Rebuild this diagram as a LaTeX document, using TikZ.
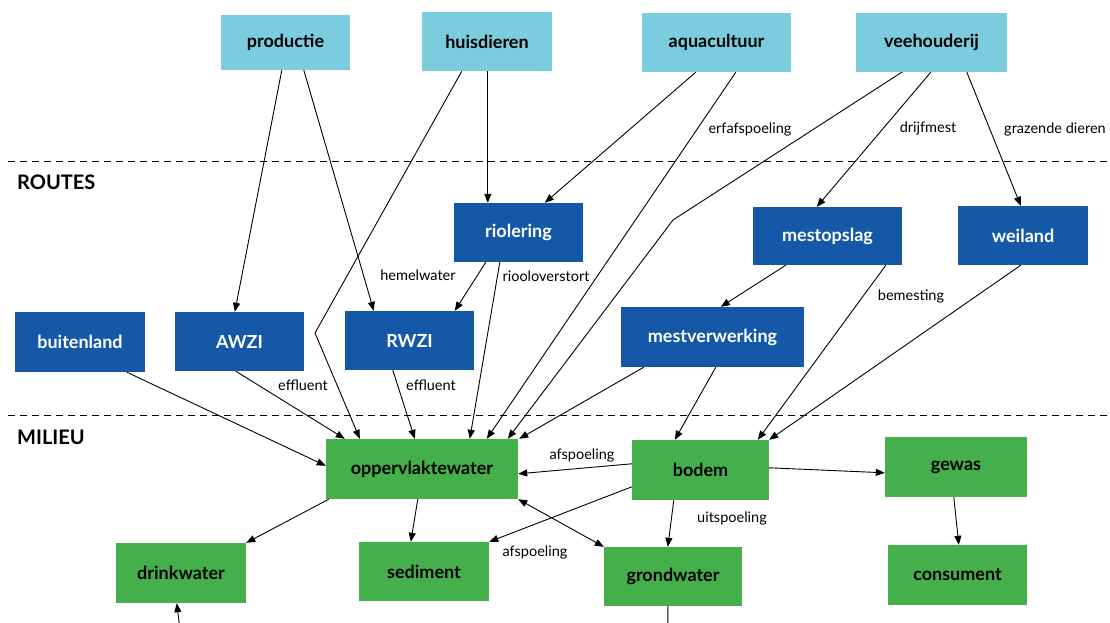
\documentclass[tikz,border=0pt]{standalone}
\usepackage{fontspec}
\setmainfont{Lato}
\usetikzlibrary{arrows.meta,calc}
\definecolor{lblue}{HTML}{7ACCDE}
\definecolor{dblue}{HTML}{1558A7}
\definecolor{grn}{HTML}{45B04B}
\begin{document}
\begin{tikzpicture}[x=1pt,y=-1pt,
  box/.style={rectangle, inner sep=0pt, font=\bfseries\fontsize{18}{20}\selectfont},
  src/.style={box, fill=lblue, text=black},
  route/.style={box, fill=dblue, text=white},
  env/.style={box, fill=grn, text=black},
  conn/.style={line width=0.9pt, draw=black},
  arr/.style={conn, -{Triangle[length=9pt,width=7pt]}},
  arrboth/.style={conn, {Triangle[length=9pt,width=7pt]}-{Triangle[length=9pt,width=7pt]}},
  lbl/.style={font=\fontsize{14.5}{16}\selectfont, inner sep=0pt, text height=10pt, text depth=3pt},
  divider/.style={line width=0.9pt, dash pattern=on 7pt off 5pt},
  zone/.style={font=\bfseries\fontsize{20}{22}\selectfont, anchor=west, inner sep=0pt}]
\useasboundingbox[fill=white] (0,0) rectangle (1110,623);

% dividers and zone titles
\draw[divider] (8,161) -- (1110,161);
\draw[divider] (8,415) -- (1110,415);
\node[zone] (routes) at (17,182) {ROUTES};
\node[zone] (milieu) at (17,437) {MILIEU};

% sources
\node[src, minimum width=129pt, minimum height=55pt] (productie) at (285.5,42.5) {productie};
\node[src, minimum width=130pt, minimum height=59pt] (huisdieren) at (487,41.5) {huisdieren};
\node[src, minimum width=149pt, minimum height=59pt] (aquacultuur) at (716.5,42.5) {aquacultuur};
\node[src, minimum width=151pt, minimum height=59pt] (veehouderij) at (931.5,42.5) {veehouderij};

% routes
\node[route, minimum width=129pt, minimum height=59pt] (riolering) at (518.5,232.5) {riolering};
\node[route, minimum width=149pt, minimum height=58pt] (mestopslag) at (827.5,236) {mestopslag};
\node[route, minimum width=130pt, minimum height=59pt] (weiland) at (1023,235.5) {weiland};
\node[route, minimum width=130pt, minimum height=60pt] (buitenland) at (80,342) {buitenland};
\node[route, minimum width=129pt, minimum height=59pt] (AWZI) at (239.5,341.5) {AWZI};
\node[route, minimum width=129pt, minimum height=59pt] (RWZI) at (409.5,340.5) {RWZI};
\node[route, minimum width=183pt, minimum height=60pt] (mestverwerking) at (712.5,337) {mestverwerking};

% environment
\node[env, minimum width=192pt, minimum height=60pt] (opp) at (422,469) {oppervlaktewater};
\node[env, minimum width=130pt, minimum height=60pt] (drinkwater) at (181,573) {drinkwater};
\node[env, minimum width=130pt, minimum height=59pt] (sediment) at (424,571.5) {sediment};
\node[env, minimum width=137pt, minimum height=60pt] (bodem) at (700.5,470) {bodem};
\node[env, minimum width=142pt, minimum height=60pt] (gewas) at (956,467) {gewas};
\node[env, minimum width=138pt, minimum height=59pt] (grondwater) at (673,576.5) {grondwater};
\node[env, minimum width=139pt, minimum height=60pt] (consument) at (957.5,575) {consument};

% bend points and free ends
\coordinate (hbend) at (315,333);
\coordinate (vbend) at (673,220);
\coordinate (fromdown) at (180,630);
\coordinate (todown) at (668,630);

% connectors
\draw[arr] ($(productie.south west)+(61,0)$) -- ($(AWZI.north west)+(60,0)$);
\draw[arr] ($(productie.south west)+(83,0)$) -- ($(RWZI.north west)+(29,0)$);
\draw[arr] ($(huisdieren.south west)+(40,0)$) -- (hbend) -- ($(opp.north west)+(34,0)$);
\draw[arr] ($(huisdieren.south west)+(66,0)$) -- ($(riolering.north west)+(34,0)$);
\draw[arr] ($(aquacultuur.south west)+(54,0)$) -- ($(riolering.north west)+(91,0)$);
\draw[arr] ($(aquacultuur.south west)+(94,0)$) -- ($(opp.north west)+(161,0)$);
\draw[arr] ($(veehouderij.south west)+(46,0)$) -- (vbend) -- ($(opp.north west)+(182,0)$);
\draw[arr] ($(veehouderij.south west)+(75,0)$) -- ($(mestopslag.north west)+(64,0)$);
\draw[arr] ($(veehouderij.south west)+(111,0)$) -- ($(weiland.north west)+(63,0)$);
\draw[arr] ($(riolering.south west)+(32,0)$) -- ($(RWZI.north west)+(110,0)$);
\draw[arr] ($(riolering.south west)+(46,0)$) -- ($(opp.north west)+(144,0)$);
\draw[arr] ($(mestopslag.south west)+(33,0)$) -- ($(mestverwerking.north west)+(100,0)$);
\draw[arr] ($(mestopslag.south west)+(133,0)$) -- ($(bodem.north west)+(126,0)$);
\draw[arr] ($(weiland.south west)+(63,0)$) -- (bodem.north east);
\draw[arr] ($(mestverwerking.south west)+(23,0)$) -- ($(opp.north east)+(1,0)$);
\draw[arr] ($(mestverwerking.south west)+(95,0)$) -- ($(bodem.north west)+(43,0)$);
\draw[arr] ($(buitenland.south west)+(112,0)$) -- ($(opp.north west)+(0,27)$);
\draw[arr] ($(AWZI.south west)+(61,0)$) -- ($(opp.north west)+(19,0)$);
\draw[arr] ($(RWZI.south west)+(48,0)$) -- ($(opp.north west)+(89,0)$);
\draw[arr] ($(bodem.north west)+(0,24)$) -- ($(opp.north east)+(0,35)$);
\draw[arr] ($(bodem.north west)+(0,47)$) -- (sediment.north east);
\draw[arrboth] (opp.south east) -- (grondwater.north west);
\draw[arr] ($(bodem.north east)+(0,28)$) -- ($(gewas.north west)+(0,36)$);
\draw[arr] ($(bodem.south west)+(42,0)$) -- ($(grondwater.north west)+(64,0)$);
\draw[arr] ($(gewas.south west)+(69,0)$) -- ($(consument.north west)+(71,0)$);
\draw[arr] ($(opp.south west)+(3,0)$) -- (drinkwater.north east);
\draw[arr] ($(opp.south west)+(92,0)$) -- ($(sediment.north west)+(52,0)$);
\draw[arr] (fromdown) -- ($(drinkwater.south west)+(61,0)$);
\draw[conn] ($(grondwater.south west)+(64,0)$) -- (todown);

% labels
\node[lbl] (l1) at (750,130) {erfafspoeling};
\node[lbl] (l2) at (928,129) {drijfmest};
\node[lbl] (l3) at (1055,130) {grazende dieren};
\node[lbl] (l4) at (418,277) {hemelwater};
\node[lbl] (l5) at (546,278) {riooloverstort};
\node[lbl] (l6) at (911,297) {bemesting};
\node[lbl] (l7) at (303,387) {effluent};
\node[lbl] (l8) at (431,387) {effluent};
\node[lbl] (l9) at (582,456) {afspoeling};
\node[lbl] (l10) at (535,553) {afspoeling};
\node[lbl] (l11) at (732,519) {uitspoeling};
\end{tikzpicture}
\end{document}
